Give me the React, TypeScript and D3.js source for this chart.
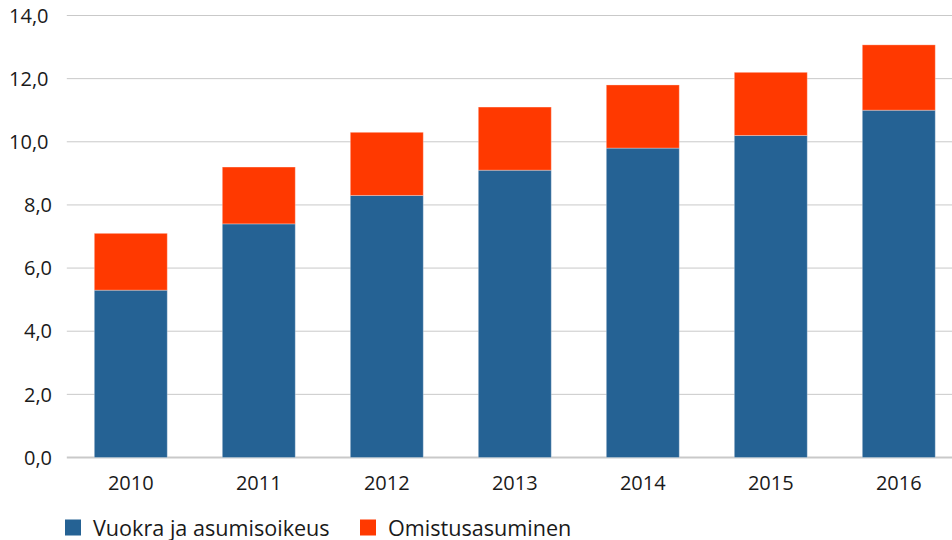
import React from "react";
import * as d3 from "d3";

const years = ["2010", "2011", "2012", "2013", "2014", "2015", "2016"];
const vuokra = [5.3, 7.4, 8.3, 9.1, 9.8, 10.2, 11.0];
const omistus = [1.8, 1.8, 2.0, 2.0, 2.0, 2.0, 2.07];
const yTicks = [0, 2, 4, 6, 8, 10, 12, 14];
const seriesNames = ["Vuokra ja asumisoikeus", "Omistusasuminen"];
const colors = ["#256294", "#FF3900"];

const W = 952;
const H = 540;
const FONT = "'Open Sans', sans-serif";

export default function App() {
  const x = d3
    .scaleBand<string>()
    .domain(years)
    .range([66.8, 962.8])
    .paddingInner(0.43)
    .paddingOuter(0.215);
  const y = d3.scaleLinear().domain([0, 14]).range([457.5, 15.5]);
  const fmt = (v: number) => d3.format(".1f")(v).replace(".", ",");

  const stacked = d3
    .stack<number>()
    .keys(["0", "1"])
    .value((i, k) => (k === "0" ? vuokra[i] : omistus[i]))(years.map((_, i) => i));

  return (
    <div style={{ position: "absolute", left: 0, top: 0 }}>
      <svg width={W} height={H} style={{ display: "block" }} fontFamily={FONT}>
        {yTicks.map((t) => (
          <g key={t}>
            <line
              x1={66.8}
              x2={W}
              y1={y(t)}
              y2={y(t)}
              stroke="#c9c9c9"
              strokeWidth={t === 0 ? 2 : 1}
            />
            <text
              x={t >= 10 ? 48.5 : 52}
              y={y(t)}
              dy="0.36em"
              textAnchor="end"
              fontSize={20}
              fill="#1a1a1a"
            >
              {fmt(t)}
            </text>
          </g>
        ))}
        {stacked.map((layer, li) =>
          layer.map((d, i) => (
            <rect
              key={`${li}-${i}`}
              x={x(years[i])!}
              width={x.bandwidth()}
              y={y(d[1])}
              height={y(d[0]) - y(d[1])}
              fill={colors[li]}
              stroke="rgba(255,255,255,0.3)"
              strokeWidth={1}
            />
          ))
        )}
        {years.map((yr) => (
          <text
            key={yr}
            x={x(yr)! + x.bandwidth() / 2}
            y={490}
            textAnchor="middle"
            fontSize={20}
            fill="#1a1a1a"
          >
            {yr}
          </text>
        ))}
        {seriesNames.map((name, i) => {
          const lx = i === 0 ? 65 : 360;
          return (
            <g key={name}>
              <rect x={lx} y={519.5} width={16} height={16} fill={colors[i]} />
              <text x={lx + 28} y={535.5} fontSize={21.6} fill="#1a1a1a">
                {name}
              </text>
            </g>
          );
        })}
      </svg>
    </div>
  );
}
